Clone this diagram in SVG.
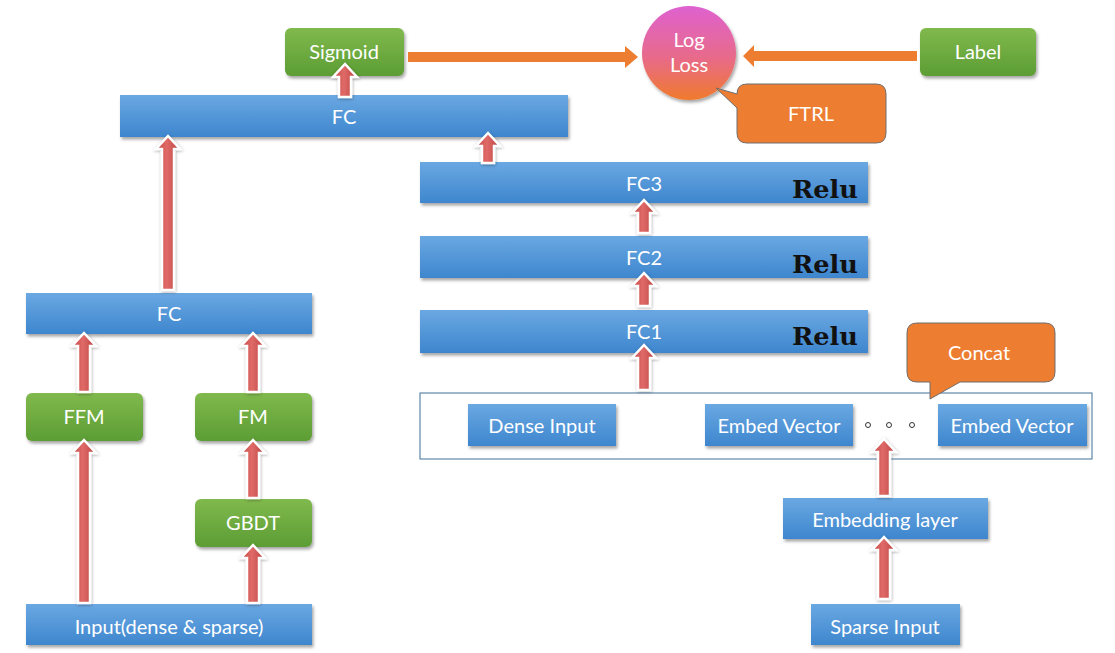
<svg xmlns="http://www.w3.org/2000/svg" width="1115" height="653" viewBox="0 0 1115 653">
<defs>
<linearGradient id="gBlue" x1="0" y1="0" x2="0" y2="1">
<stop offset="0" stop-color="#6AA8E2"/><stop offset="1" stop-color="#3E86CE"/>
</linearGradient>
<linearGradient id="gGreen" x1="0" y1="0" x2="0" y2="1">
<stop offset="0" stop-color="#80B94D"/><stop offset="1" stop-color="#5C9D34"/>
</linearGradient>
<linearGradient id="gLoss" x1="0" y1="0" x2="0" y2="1">
<stop offset="0" stop-color="#DE62D0"/><stop offset="0.55" stop-color="#E86A8A"/><stop offset="1" stop-color="#F07A2C"/>
</linearGradient>
<linearGradient id="gRed" x1="0" y1="0" x2="1" y2="0">
<stop offset="0" stop-color="#C44A48"/><stop offset="0.45" stop-color="#E06A67"/><stop offset="1" stop-color="#B84240"/>
</linearGradient>
<filter id="sh" x="-10%" y="-20%" width="130%" height="160%">
<feDropShadow dx="1.5" dy="2.5" stdDeviation="1.5" flood-color="#000" flood-opacity="0.35"/>
</filter>
<filter id="ash" x="-50%" y="-10%" width="200%" height="130%">
<feDropShadow dx="0.5" dy="1" stdDeviation="1.5" flood-color="#000" flood-opacity="0.35"/>
</filter>
</defs>
<style>
.blue{fill:url(#gBlue);filter:url(#sh)}
.green{fill:url(#gGreen);filter:url(#sh)}
.orange{fill:#ED7D31;stroke:#6E6E6E;stroke-width:1}
.t{font-family:Lato,"Open Sans","Liberation Sans",sans-serif;font-size:20px;fill:#FFFFFF;text-anchor:middle;dominant-baseline:central}
.relu{font-family:"DejaVu Serif","Liberation Serif",serif;font-weight:bold;font-size:24px;fill:#111;text-anchor:start}
.ra{fill:url(#gRed);stroke:#FFFFFF;stroke-width:2.5;stroke-linejoin:miter;filter:url(#ash)}
.oa{fill:#ED7D31}
</style>
<rect width="1115" height="653" fill="#FFFFFF"/>

<g id="sigmoid"><rect class="green" x="285" y="28" width="119" height="48" rx="6"/><text class="t" x="344" y="51">Sigmoid</text></g>
<g id="logloss"><circle cx="689" cy="53" r="47" fill="url(#gLoss)" filter="url(#sh)"/><text class="t" x="689" y="39">Log</text><text class="t" x="689" y="64">Loss</text></g>
<g id="label"><rect class="green" x="920" y="28" width="116" height="48" rx="6"/><text class="t" x="978" y="51">Label</text></g>
<g id="ftrl"><path class="orange" d="M747,84 H876 Q886,84 886,94 V133 Q886,143 876,143 H747 Q737,143 737,133 V108 L716,88 L737,94 Q737,84 747,84 Z"/><text class="t" x="811" y="113">FTRL</text></g>

<g id="fc-top"><rect class="blue" x="120" y="95" width="448" height="42"/><text class="t" x="344" y="116">FC</text></g>
<g id="fc3"><rect class="blue" x="420" y="162" width="448" height="41"/><text class="t" x="644" y="183">FC3</text><text class="relu" x="792" y="198" textLength="66" lengthAdjust="spacingAndGlyphs">Relu</text></g>
<g id="fc2"><rect class="blue" x="420" y="236" width="448" height="42"/><text class="t" x="644" y="257">FC2</text><text class="relu" x="792" y="273" textLength="66" lengthAdjust="spacingAndGlyphs">Relu</text></g>
<g id="fc1"><rect class="blue" x="420" y="310" width="448" height="43"/><text class="t" x="644" y="331">FC1</text><text class="relu" x="792" y="345" textLength="66" lengthAdjust="spacingAndGlyphs">Relu</text></g>

<g id="concat-layer"><rect x="420" y="393" width="672" height="66" fill="#FFFFFF" stroke="#41719C" stroke-width="1"/>
<circle cx="868" cy="425" r="2.5" fill="none" stroke="#333" stroke-width="1"/><circle cx="889" cy="425" r="2.5" fill="none" stroke="#333" stroke-width="1"/><circle cx="912" cy="425" r="2.5" fill="none" stroke="#333" stroke-width="1"/></g>
<g id="dense-input"><rect class="blue" x="468" y="404" width="148" height="42"/><text class="t" x="542" y="425">Dense Input</text></g>
<g id="embed-vector-1"><rect class="blue" x="705" y="404" width="148" height="42"/><text class="t" x="779" y="425">Embed Vector</text></g>
<g id="embed-vector-2"><rect class="blue" x="938" y="404" width="149" height="42"/><text class="t" x="1012" y="425">Embed Vector</text></g>
<g id="concat"><path class="orange" d="M917,323 H1045 Q1055,323 1055,333 V372 Q1055,382 1045,382 H960 L930,399 V382 H917 Q907,382 907,372 V333 Q907,323 917,323 Z"/><text class="t" x="979" y="352">Concat</text></g>

<g id="embedding-layer"><rect class="blue" x="783" y="498" width="205" height="41"/><text class="t" x="885" y="519">Embedding layer</text></g>
<g id="sparse-input"><rect class="blue" x="811" y="604" width="149" height="41"/><text class="t" x="885" y="626">Sparse Input</text></g>

<g id="fc-left"><rect class="blue" x="26" y="293" width="286" height="41"/><text class="t" x="169" y="313">FC</text></g>
<g id="ffm"><rect class="green" x="26" y="393" width="117" height="48" rx="6"/><text class="t" x="84" y="416">FFM</text></g>
<g id="fm"><rect class="green" x="195" y="393" width="117" height="48" rx="6"/><text class="t" x="253" y="416">FM</text></g>
<g id="gbdt"><rect class="green" x="195" y="499" width="117" height="48" rx="6"/><text class="t" x="253" y="522">GBDT</text></g>
<g id="input"><rect class="blue" x="26" y="604" width="286" height="41"/><text class="t" x="169" y="626">Input(dense &amp; sparse)</text></g>

<g id="connectors">
<path class="oa" d="M408,52 H625 V46 L638,57 L625,68 V62 H408 Z"/>
<path class="oa" d="M917,51 H754 V45 L743,56 L754,67 V61 H917 Z"/>
<path class="ra" d="M168,136 L180,149 L174,149 L174,290 L162,290 L162,149 L156,149 Z"/>
<path class="ra" d="M488,133 L500,146 L494,146 L494,163 L482,163 L482,146 L476,146 Z"/>
<path class="ra" d="M345,64 L357,77 L351,77 L351,97 L339,97 L339,77 L333,77 Z"/>
<path class="ra" d="M644,200 L656,213 L650,213 L650,233 L638,233 L638,213 L632,213 Z"/>
<path class="ra" d="M644,273 L656,286 L650,286 L650,306 L638,306 L638,286 L632,286 Z"/>
<path class="ra" d="M644,345 L656,358 L650,358 L650,390 L638,390 L638,358 L632,358 Z"/>
<path class="ra" d="M884,439 L896,452 L890,452 L890,496 L878,496 L878,452 L872,452 Z"/>
<path class="ra" d="M884,537 L896,550 L890,550 L890,599 L878,599 L878,550 L872,550 Z"/>
<path class="ra" d="M84,333 L96,346 L90,346 L90,392 L78,392 L78,346 L72,346 Z"/>
<path class="ra" d="M253,333 L265,346 L259,346 L259,392 L247,392 L247,346 L241,346 Z"/>
<path class="ra" d="M84,440 L96,453 L90,453 L90,603 L78,603 L78,453 L72,453 Z"/>
<path class="ra" d="M253,440 L265,453 L259,453 L259,498 L247,498 L247,453 L241,453 Z"/>
<path class="ra" d="M253,545 L265,558 L259,558 L259,603 L247,603 L247,558 L241,558 Z"/>
</g>
</svg>
